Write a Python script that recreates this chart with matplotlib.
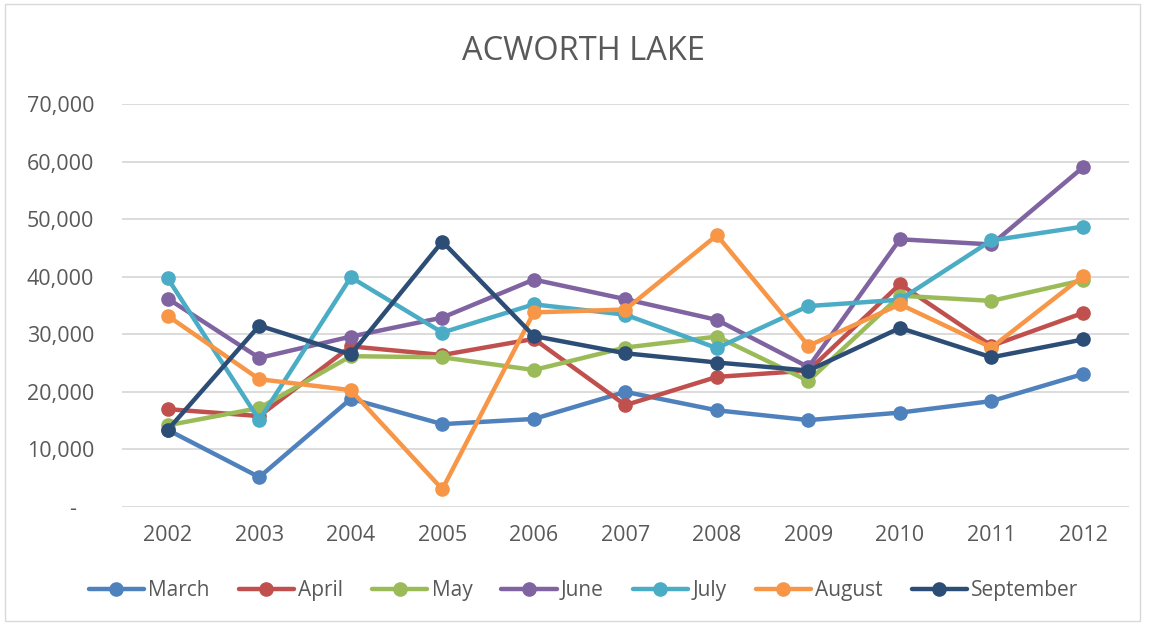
import matplotlib
matplotlib.use("Agg")
import matplotlib.pyplot as plt
from matplotlib.patches import Rectangle
from matplotlib.ticker import FuncFormatter

years = ["2002", "2003", "2004", "2005", "2006", "2007", "2008", "2009", "2010", "2011", "2012"]
march = [13400, 5200, 18800, 14400, 15300, 20000, 16800, 15100, 16400, 18400, 23100]
april = [17000, 15800, 27900, 26400, 29200, 17700, 22600, 23700, 38700, 28000, 33700]
may = [14200, 17200, 26200, 26000, 23800, 27700, 29600, 21900, 36700, 35800, 39400]
june = [36200, 25900, 29600, 32900, 39500, 36100, 32500, 24300, 46500, 45600, 59000]
july = [39700, 15100, 39900, 30300, 35200, 33400, 27600, 34900, 36000, 46300, 48700]
august = [33200, 22200, 20300, 3100, 33800, 34300, 47200, 28000, 35200, 27700, 40100]
september = [13400, 31500, 26500, 46100, 29700, 26700, 25100, 23700, 31100, 26000, 29100]

series_names = ["March", "April", "May", "June", "July", "August", "September"]
series_values = [march, april, may, june, july, august, september]
colors = ["#4F81BD", "#C0504D", "#9BBB59", "#8064A2", "#4BACC6", "#F79646", "#2C4D75"]

plt.rcParams['font.family'] = ['Open Sans', 'DejaVu Sans']
text_color = "#595959"

fig = plt.figure(figsize=(11.53, 6.26), dpi=100)
ax = fig.add_axes([0.1058, 0.190, 0.8732, 0.644])

x = list(range(len(years)))
for name, vals, c in zip(series_names, series_values, colors):
    ax.plot(x, vals, color=c, linewidth=3.2, marker='o', markersize=9.5,
            label=name, solid_capstyle='round', solid_joinstyle='round')

ax.set_xlim(-0.5, len(years) - 0.5)
ax.set_ylim(0, 70000)
ax.set_yticks(range(0, 70001, 10000))
ax.yaxis.set_major_formatter(FuncFormatter(lambda v, p: "-   " if v == 0 else f"{int(v):,}"))
ax.set_xticks(x)
ax.set_xticklabels(years)
ax.grid(axis='y', color='#D9D9D9', linewidth=1.3)
ax.set_axisbelow(True)
for s in ax.spines.values():
    s.set_visible(False)
ax.tick_params(axis='both', length=0, labelsize=15.5, colors=text_color)
ax.tick_params(axis='y', pad=20)
ax.tick_params(axis='x', pad=13)

fig.text(0.506, 0.918, "ACWORTH LAKE", ha='center', va='center', fontsize=23.5, color=text_color)

leg = fig.legend(loc='center', bbox_to_anchor=(0.506, 0.057), ncol=7, frameon=False,
                 fontsize=15, handlelength=2.65, handletextpad=0.2, columnspacing=1.4,
                 labelcolor=text_color)

fig.patches.append(Rectangle((0.004, 0.008), 0.985, 0.985, transform=fig.transFigure,
                             fill=False, edgecolor='#D9D9D9', linewidth=1))

fig.savefig("out.png", dpi=100, facecolor='white')
